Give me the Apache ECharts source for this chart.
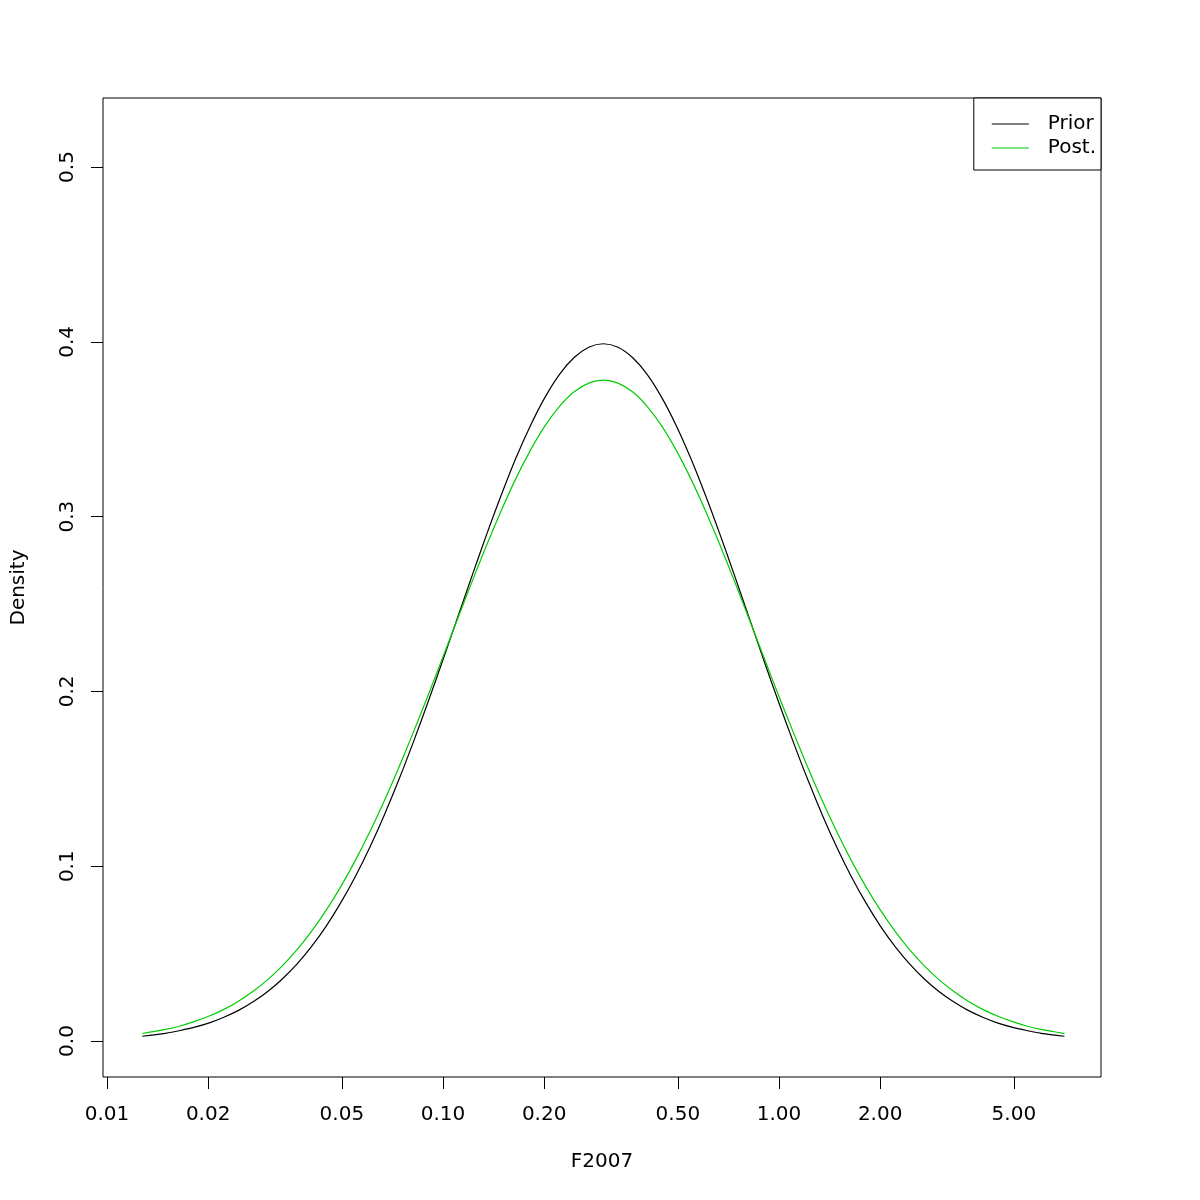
<!DOCTYPE html>
<html>
<head>
<meta charset="utf-8">
<script src="https://cdn.jsdelivr.net/npm/echarts@6/dist/echarts.min.js"></script>
<style>html,body{margin:0;padding:0;background:#fff}#c{width:1200px;height:1200px}</style>
</head>
<body>
<div id="c"></div>
<script>
// F2007 values (x, original units)
var fValues = [0.01273, 0.01494, 0.01651, 0.01824, 0.02016, 0.02228, 0.02463, 0.02722, 0.03008, 0.03324, 0.03674, 0.04060, 0.04487, 0.04959, 0.05480, 0.06057, 0.06694, 0.07398, 0.08176, 0.09036, 0.09986, 0.1104, 0.1220, 0.1348, 0.1490, 0.1646, 0.1820, 0.2011, 0.2222, 0.2456, 0.2715, 0.3000, 0.3316, 0.3664, 0.4050, 0.4475, 0.4946, 0.5466, 0.6041, 0.6677, 0.7379, 0.8155, 0.9013, 0.9960, 1.1008, 1.2166, 1.3445, 1.4859, 1.6422, 1.8149, 2.0058, 2.2167, 2.4499, 2.7075, 2.9923, 3.3069, 3.6547, 4.0392, 4.4639, 4.9335, 5.4522, 6.0257, 7.072];
// Prior density
var priorDensity = [0.0027, 0.0044, 0.0060, 0.0079, 0.0104, 0.0136, 0.0175, 0.0224, 0.0283, 0.0355, 0.0440, 0.0540, 0.0656, 0.0790, 0.0940, 0.1109, 0.1295, 0.1497, 0.1714, 0.1942, 0.2178, 0.2420, 0.2661, 0.2897, 0.3122, 0.3332, 0.3520, 0.3682, 0.3814, 0.3910, 0.3969, 0.3989, 0.3969, 0.3910, 0.3814, 0.3682, 0.3520, 0.3332, 0.3122, 0.2897, 0.2661, 0.2420, 0.2178, 0.1942, 0.1714, 0.1497, 0.1295, 0.1109, 0.0940, 0.0790, 0.0656, 0.0540, 0.0440, 0.0355, 0.0283, 0.0224, 0.0175, 0.0136, 0.0104, 0.0079, 0.0060, 0.0044, 0.0027];
// Posterior density
var postDensity = [0.0043, 0.0066, 0.0086, 0.0112, 0.0143, 0.0181, 0.0228, 0.0284, 0.0351, 0.0430, 0.0521, 0.0627, 0.0747, 0.0882, 0.1032, 0.1197, 0.1376, 0.1568, 0.1770, 0.1980, 0.2195, 0.2413, 0.2628, 0.2836, 0.3034, 0.3216, 0.3379, 0.3519, 0.3631, 0.3714, 0.3764, 0.3781, 0.3764, 0.3714, 0.3631, 0.3519, 0.3379, 0.3216, 0.3034, 0.2836, 0.2628, 0.2413, 0.2195, 0.1980, 0.1770, 0.1568, 0.1376, 0.1197, 0.1032, 0.0882, 0.0747, 0.0627, 0.0521, 0.0430, 0.0351, 0.0284, 0.0228, 0.0181, 0.0143, 0.0112, 0.0086, 0.0066, 0.0043];
// Axis ticks
var xTickValues = [0.01, 0.02, 0.05, 0.1, 0.2, 0.5, 1, 2, 5];
var xTickLabels = ["0.01", "0.02", "0.05", "0.10", "0.20", "0.50", "1.00", "2.00", "5.00"];
var yTickValues = [0, 0.1, 0.2, 0.3, 0.4, 0.5];
var yTickLabels = ["0.0", "0.1", "0.2", "0.3", "0.4", "0.5"];

var FONT = 'DejaVu Sans';
var FS = 20;
var xLogTicks = xTickValues.map(function (v) { return Math.log10(v); });
function xLabel(v) {
  var best = 0, bd = Infinity;
  xLogTicks.forEach(function (t, i) { var d = Math.abs(t - v); if (d < bd) { bd = d; best = i; } });
  return xTickLabels[best];
}
function yLabel(v) {
  var best = 0, bd = Infinity;
  yTickValues.forEach(function (t, i) { var d = Math.abs(t - v); if (d < bd) { bd = d; best = i; } });
  return yTickLabels[best];
}
function pairs(ys) { return fValues.map(function (x, i) { return [Math.log10(x), ys[i]]; }); }

var chart = echarts.init(document.getElementById('c'), null, { renderer: 'canvas' });
chart.setOption({
  animation: false,
  backgroundColor: '#ffffff',
  textStyle: { fontFamily: FONT },
  grid: { left: 103, right: 99, top: 98, bottom: 123, show: true, borderColor: '#000', borderWidth: 1, backgroundColor: 'transparent' },
  legend: {
    orient: 'vertical', right: 99, top: 98,
    padding: [16, 5, 12, 18],
    itemGap: 4, itemWidth: 37, itemHeight: 1,
    icon: 'rect',
    borderColor: '#000', borderWidth: 1, borderRadius: 0,
    backgroundColor: '#fff',
    textStyle: { fontFamily: FONT, fontSize: FS, color: '#000', padding: [0, 0, 0, 14], lineHeight: 20 },
    data: [{ name: 'Prior' }, { name: 'Post.' }]
  },
  xAxis: {
    type: 'value', min: -2.0119, max: 0.9583,
    name: 'F2007', nameLocation: 'middle', nameGap: 75,
    nameTextStyle: { fontFamily: FONT, fontSize: FS, color: '#000' },
    axisLine: { show: false, onZero: false },
    splitLine: { show: false },
    axisTick: { show: true, inside: false, length: 12, customValues: xLogTicks, lineStyle: { color: '#000', width: 1 } },
    axisLabel: { show: true, margin: 28, customValues: xLogTicks, formatter: xLabel, fontFamily: FONT, fontSize: FS, color: '#000' }
  },
  yAxis: {
    type: 'value', min: -0.0206, max: 0.5395,
    name: 'Density', nameLocation: 'middle', nameGap: 74,
    nameTextStyle: { fontFamily: FONT, fontSize: FS, color: '#000' },
    axisLine: { show: false, onZero: false },
    splitLine: { show: false },
    axisTick: { show: true, inside: false, length: 12, customValues: yTickValues, lineStyle: { color: '#000', width: 1 } },
    axisLabel: { show: true, rotate: 90, margin: 25, customValues: yTickValues, formatter: yLabel, fontFamily: FONT, fontSize: FS, color: '#000' }
  },
  series: [
    { name: 'Prior', type: 'line', data: pairs(priorDensity), smooth: 0.3, symbol: 'none', lineStyle: { color: '#000000', width: 1.2 }, itemStyle: { color: '#000000' } },
    { name: 'Post.', type: 'line', data: pairs(postDensity), smooth: 0.3, symbol: 'none', lineStyle: { color: '#00CD00', width: 1.2 }, itemStyle: { color: '#00CD00' } }
  ]
});
</script>
</body>
</html>
